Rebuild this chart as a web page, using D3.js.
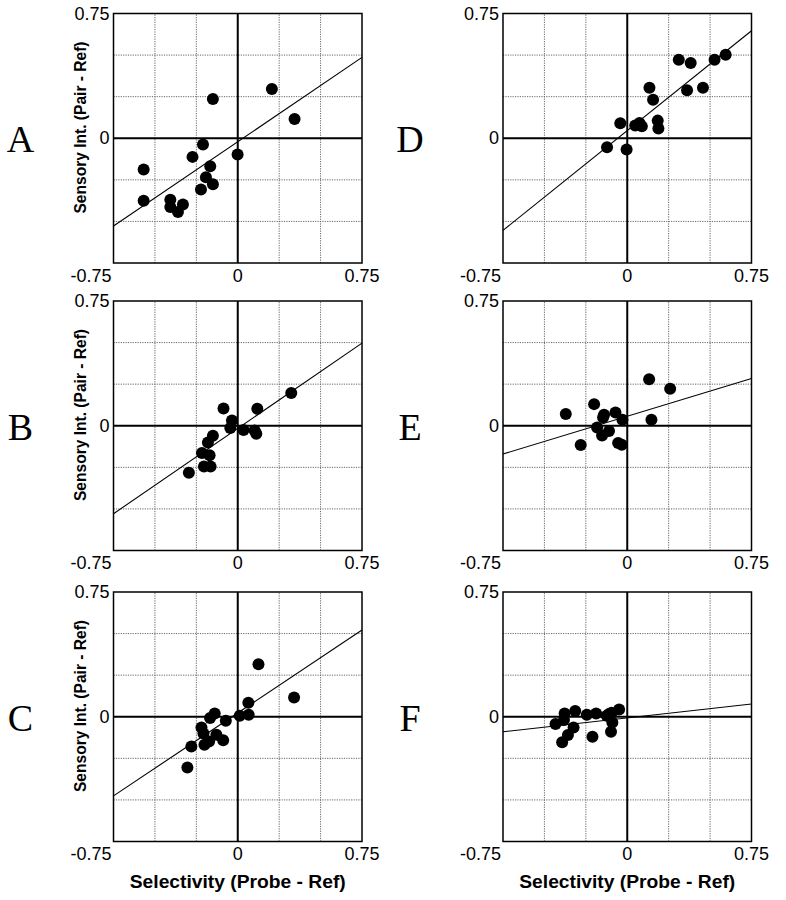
<!DOCTYPE html>
<html>
<head>
<meta charset="utf-8">
<script src="https://cdn.jsdelivr.net/npm/d3@7"></script>
<style>
  html, body { margin: 0; padding: 0; background: #fff; }
  svg { display: block; }
</style>
</head>
<body>
<svg id="chart" width="786" height="900"></svg>
<script>
// ---------- data ----------
const panelLetters = ["A", "B", "C", "D", "E", "F"];

const xA = [-0.568, -0.568, -0.407, -0.407, -0.361, -0.331, -0.273, -0.210, -0.150, -0.166, -0.192, -0.222, -0.150, -0.001, 0.206, 0.343];
const yA = [-0.188, -0.376, -0.370, -0.414, -0.444, -0.398, -0.112, -0.038, 0.236, -0.168, -0.234, -0.308, -0.276, -0.098, 0.296, 0.116];

const xB = [-0.295, -0.216, -0.204, -0.164, -0.170, -0.180, -0.150, -0.086, -0.035, -0.045, 0.035, 0.102, 0.112, 0.118, 0.323];
const yB = [-0.283, -0.164, -0.245, -0.245, -0.178, -0.100, -0.060, 0.104, 0.032, -0.014, -0.026, -0.028, -0.048, 0.102, 0.197];

const xC = [-0.304, -0.280, -0.219, -0.207, -0.201, -0.173, -0.167, -0.139, -0.129, -0.088, -0.072, 0.012, 0.066, 0.064, 0.125, 0.340];
const yC = [-0.305, -0.179, -0.064, -0.100, -0.169, -0.149, -0.008, 0.020, -0.108, -0.141, -0.024, 0.006, 0.012, 0.084, 0.315, 0.116];

const xD = [-0.122, -0.004, -0.042, 0.048, 0.074, 0.088, 0.134, 0.156, 0.184, 0.188, 0.311, 0.383, 0.361, 0.457, 0.527, 0.594];
const yD = [-0.054, -0.068, 0.090, 0.076, 0.092, 0.072, 0.304, 0.232, 0.106, 0.058, 0.472, 0.452, 0.288, 0.304, 0.472, 0.502];

const xE = [-0.371, -0.281, -0.200, -0.182, -0.152, -0.146, -0.140, -0.110, -0.071, -0.055, -0.033, -0.029, 0.132, 0.146, 0.259];
const yE = [0.070, -0.116, 0.130, -0.010, -0.058, 0.050, 0.066, -0.032, 0.080, -0.104, -0.114, 0.036, 0.280, 0.036, 0.222];

const xF = [-0.433, -0.393, -0.378, -0.382, -0.358, -0.324, -0.314, -0.244, -0.210, -0.188, -0.124, -0.110, -0.094, -0.090, -0.098, -0.049];
const yF = [-0.044, -0.154, 0.020, -0.020, -0.110, -0.064, 0.034, 0.012, -0.120, 0.020, 0.006, 0.016, 0.024, -0.034, -0.090, 0.044];

// regression lines (intercept, slope) per panel A..F
const fitIntercepts = [-0.021, -0.016, 0.023, 0.046, 0.057, -0.007];
const fitSlopes = [0.676, 0.684, 0.665, 0.800, 0.303, 0.111];

const gridTicks = [-0.75, -0.5, -0.25, 0, 0.25, 0.5, 0.75];
const labelTicks = ["-0.75", "0", "0.75"];
const yTitle = "Sensory Int. (Pair - Ref)";
const xTitle = "Selectivity (Probe - Ref)";

// ---------- layout ----------
const xsAll = [xA, xB, xC, xD, xE, xF];
const ysAll = [yA, yB, yC, yD, yE, yF];
const colLeft = [113.5, 503];
const rowTop = [13.5, 301, 592];
const pw = 248.5, ph = 249.5;

const svg = d3.select("#chart");
const sansFont = "'Liberation Sans', Arial, Helvetica, sans-serif";

panelLetters.forEach((letter, i) => {
  const col = i < 3 ? 0 : 1;
  const row = i % 3;
  const x0 = colLeft[col], y0 = rowTop[row];
  const x = d3.scaleLinear().domain([-0.75, 0.75]).range([x0, x0 + pw]);
  const y = d3.scaleLinear().domain([-0.75, 0.75]).range([y0 + ph, y0]);
  const g = svg.append("g");
  const inner = gridTicks.filter(t => t !== 0 && Math.abs(t) !== 0.75);

  // dotted grid
  g.selectAll("line.gx").data(inner).enter()
    .append("line")
    .attr("x1", d => x(d)).attr("x2", d => x(d))
    .attr("y1", y(-0.75)).attr("y2", y(0.75))
    .attr("stroke", "#666").attr("stroke-width", 1).attr("stroke-dasharray", "1.2,1.2");
  g.selectAll("line.gy").data(inner).enter()
    .append("line")
    .attr("y1", d => y(d)).attr("y2", d => y(d))
    .attr("x1", x(-0.75)).attr("x2", x(0.75))
    .attr("stroke", "#666").attr("stroke-width", 1).attr("stroke-dasharray", "1.2,1.2");

  // zero lines
  g.append("line").attr("x1", x(0)).attr("x2", x(0)).attr("y1", y(-0.75)).attr("y2", y(0.75))
    .attr("stroke", "#000").attr("stroke-width", 2);
  g.append("line").attr("y1", y(0)).attr("y2", y(0)).attr("x1", x(-0.75)).attr("x2", x(0.75))
    .attr("stroke", "#000").attr("stroke-width", 2);

  // frame
  g.append("rect").attr("x", x(-0.75)).attr("y", y(0.75))
    .attr("width", x(0.75) - x(-0.75)).attr("height", y(-0.75) - y(0.75))
    .attr("fill", "none").attr("stroke", "#000").attr("stroke-width", 1.5);

  // regression line
  const a = fitIntercepts[i], b = fitSlopes[i];
  g.append("line")
    .attr("x1", x(-0.75)).attr("y1", y(a + b * -0.75))
    .attr("x2", x(0.75)).attr("y2", y(a + b * 0.75))
    .attr("stroke", "#000").attr("stroke-width", 1.1);

  // points
  const pts = xsAll[i].map((v, k) => [v, ysAll[i][k]]);
  g.selectAll("circle").data(pts).enter().append("circle")
    .attr("cx", d => x(d[0])).attr("cy", d => y(d[1])).attr("r", 6)
    .attr("fill", "#000");

  // y tick labels (top and zero)
  [["0.75", 0.75], ["0", 0]].forEach(([lab, v]) => {
    g.append("text").attr("x", x0 - 4).attr("y", y(v) + 6)
      .attr("text-anchor", "end").attr("font-family", sansFont).attr("font-size", 18)
      .text(lab);
  });
  // x tick labels
  const xl = y0 + ph + 18.5;
  g.append("text").attr("x", x0 - 2).attr("y", xl).attr("text-anchor", "end")
    .attr("font-family", sansFont).attr("font-size", 18).text(labelTicks[0]);
  g.append("text").attr("x", x(0)).attr("y", xl).attr("text-anchor", "middle")
    .attr("font-family", sansFont).attr("font-size", 18).text(labelTicks[1]);
  g.append("text").attr("x", x(0.75)).attr("y", xl).attr("text-anchor", "middle")
    .attr("font-family", sansFont).attr("font-size", 18).text(labelTicks[2]);

  // panel letter
  g.append("text").attr("x", x0 - 93).attr("y", y(0) + 14)
    .attr("text-anchor", "middle")
    .attr("font-family", "'Liberation Serif', 'Times New Roman', serif")
    .attr("font-size", 38).text(letter);

  // y title (left column only)
  if (col === 0) {
    const cx = x0 - 33, cy = y0 + 114;
    g.append("text")
      .attr("transform", `translate(${cx},${cy}) rotate(-90)`)
      .attr("text-anchor", "middle").attr("dominant-baseline", "central")
      .attr("font-family", sansFont).attr("font-weight", "bold").attr("font-size", 17)
      .attr("textLength", 172).attr("lengthAdjust", "spacingAndGlyphs")
      .text(yTitle);
  }
  // x title (bottom row only)
  if (row === 2) {
    g.append("text").attr("x", x(0)).attr("y", 888)
      .attr("text-anchor", "middle")
      .attr("font-family", sansFont).attr("font-weight", "bold").attr("font-size", 18)
      .attr("textLength", 216).attr("lengthAdjust", "spacingAndGlyphs")
      .text(xTitle);
  }
});
</script>
</body>
</html>
